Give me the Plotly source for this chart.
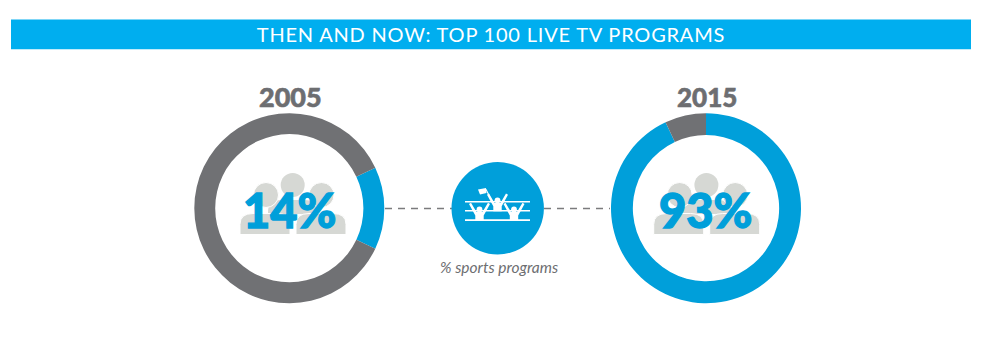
import plotly.graph_objects as go

W, H = 983, 354

title_text = "THEN AND NOW: TOP 100 LIVE TV PROGRAMS"
years = ["2005", "2015"]
labels = ["Sports programs", "Other programs"]
sports_share = [14, 93]
other_share = [86, 7]
big_labels = ["14%", "93%"]
center_caption = "% sports programs"

BLUE = "#009FDA"
BANNER = "#00AEEF"
GREY = "#707174"
TEXT_GREY = "#6D6E71"
PEOPLE = "#D6D8D4"
DASH = "#7B7B7D"

LEFT_CX, RIGHT_CX, CY, R = 289.3, 706, 208.2, 95


def px(x):
    return x / W


def py(y):
    return 1 - y / H


def path(cmds):
    out = []
    for c in cmds:
        if c[0] == "Z":
            out.append("Z")
        else:
            nums = c[1:]
            pts = [f"{px(nums[i]):.5f},{py(nums[i + 1]):.5f}" for i in range(0, len(nums), 2)]
            out.append(c[0] + " ".join(pts))
    return " ".join(out)


shapes = []


def rect(x0, y0, x1, y1, color):
    shapes.append(dict(type="rect", xref="paper", yref="paper", x0=px(x0), x1=px(x1), y0=py(y0), y1=py(y1),
                       fillcolor=color, line_width=0))


def circle(cx, cy, r, color, line=None, lw=0):
    shapes.append(dict(type="circle", xref="paper", yref="paper", x0=px(cx - r), x1=px(cx + r),
                       y0=py(cy - r), y1=py(cy + r), fillcolor=color,
                       line=dict(color=line or color, width=lw)))


def poly(cmds, color, line=None, lw=0):
    shapes.append(dict(type="path", xref="paper", yref="paper", path=path(cmds), fillcolor=color,
                       line=dict(color=line or color, width=lw)))


def body(x0, x1, y0, y1, color, line=None, lw=0):
    poly([("M", x0, y1), ("L", x0, y0 + 11), ("Q", x0, y0, x0 + 13, y0), ("L", x1 - 13, y0),
          ("Q", x1, y0, x1, y0 + 11), ("L", x1, y1), ("Z",)], color, line, lw)


def people(dx):
    circle(292.7 + dx, 185, 12, PEOPLE)
    poly([("M", 268 + dx, 214), ("L", 268 + dx, 212), ("Q", 268 + dx, 200, 281 + dx, 200),
          ("L", 304 + dx, 200), ("Q", 318 + dx, 200, 318 + dx, 212), ("L", 318 + dx, 214), ("Z",)], PEOPLE)
    circle(266 + dx, 195, 12.5, PEOPLE, "white", 1)
    circle(321.5 + dx, 195, 12.5, PEOPLE, "white", 1)
    body(240 + dx, 290 + dx, 213.5, 234.5, PEOPLE, "white", 1)
    body(296 + dx, 346 + dx, 213.5, 234.5, PEOPLE, "white", 1)


def swimmer(cx, cy):
    circle(cx, cy, 2.9, "white")
    poly([("M", cx - 10.5, cy - 5.5), ("L", cx - 8.5, cy - 6.8), ("L", cx - 3, cy + 2.6), ("L", cx + 3, cy + 2.6),
          ("L", cx + 8.5, cy - 6.8), ("L", cx + 10.5, cy - 5.5), ("L", cx + 4.2, cy + 6), ("L", cx + 4.2, cy + 11),
          ("L", cx - 4.2, cy + 11), ("L", cx - 4.2, cy + 6), ("Z",)], "white")


# banner
rect(11, 19.5, 971, 49.3, BANNER)

# people pictograms behind the percentages
people(0)
people(413.7)

# dashed connectors and centre disc
for x0, x1 in [(385, 452), (544, 610)]:
    shapes.append(dict(type="line", xref="paper", yref="paper", x0=px(x0), x1=px(x1), y0=py(208.5), y1=py(208.5),
                       line=dict(color=DASH, width=1.6, dash="7px,6px")))
circle(497.7, 208.3, 46.2, BLUE)

# icon
rect(465, 201, 530, 202.6, "white")
rect(465, 210, 530, 211.6, "white")
rect(465, 219.3, 530, 220.9, "white")
swimmer(497.5, 200.3)
swimmer(479.5, 209.5)
swimmer(514, 209.5)
# flag on the central figure's raised arm
poly([("M", 490, 196), ("L", 489, 196.6), ("L", 485.4, 189.6), ("L", 486.4, 189), ("Z",)], "white")
poly([("M", 478, 189.5), ("L", 486, 188), ("L", 486.5, 193), ("L", 480, 194.5), ("Z",)], "white")

fig = go.Figure()

fig.add_trace(go.Pie(
    labels=labels, values=[sports_share[0], other_share[0]], hole=0.78, sort=False, direction="clockwise",
    rotation=90 - sports_share[0] * 3.6 / 2, textinfo="none", showlegend=False,
    marker=dict(colors=[BLUE, GREY], line=dict(width=0)),
    domain=dict(x=[px(LEFT_CX - R), px(LEFT_CX + R)], y=[py(CY + R), py(CY - R)]),
))
fig.add_trace(go.Pie(
    labels=labels, values=[sports_share[1], other_share[1]], hole=0.77, sort=False, direction="clockwise",
    rotation=0, textinfo="none", showlegend=False,
    marker=dict(colors=[BLUE, GREY], line=dict(width=0)),
    domain=dict(x=[px(RIGHT_CX - R), px(RIGHT_CX + R)], y=[py(CY + R), py(CY - R)]),
))


def note(text, x, y, size, color, weight=400, style="normal", family="Lato"):
    return dict(text=text, x=px(x), y=py(y), xref="paper", yref="paper", showarrow=False,
                xanchor="center", yanchor="middle",
                font=dict(size=size, color=color, family=family, weight=weight, style=style))


annotations = [
    note(title_text, 491, 33.5, 20, "white", 400),
    note(years[0], 290.5, 97, 27, TEXT_GREY, 900),
    note(years[1], 707, 97, 26, TEXT_GREY, 900),
    note(big_labels[0], 289, 209.5, 47, BLUE, 900),
    note(big_labels[1], 705, 209.5, 47, BLUE, 900),
    note(center_caption, 498.5, 267, 15.5, TEXT_GREY, 400, "italic"),
]

fig.update_layout(width=W, height=H, margin=dict(l=0, r=0, t=0, b=0), paper_bgcolor="white",
                  plot_bgcolor="white", shapes=shapes, annotations=annotations, showlegend=False)

post = """
document.body.style.margin = '0';
var ts = document.querySelectorAll('.annotation-text');
ts.forEach(function (t, i) {
  if (i === 0) { t.style.letterSpacing = '0.8px'; }
  if (i === 1 || i === 2) { t.style.stroke = '#6D6E71'; t.style.strokeWidth = '0.6px'; }
  if (i === 3 || i === 4) { t.style.stroke = '#009FDA'; t.style.strokeWidth = '1.3px'; }
});
"""
fig.write_html("out.html", config=dict(displayModeBar=False), post_script=post)
